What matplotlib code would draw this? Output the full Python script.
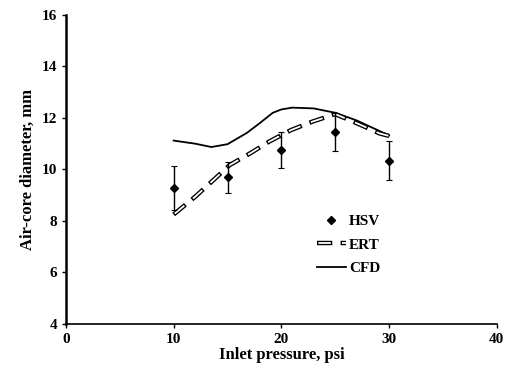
import matplotlib.pyplot as plt
from matplotlib.lines import Line2D

# Data
hsv_x = [10, 15, 20, 25, 30]
hsv_y = [9.28, 9.7, 10.76, 11.46, 10.34]
hsv_err = [0.85, 0.6, 0.7, 0.75, 0.75]

ert_x = [10, 12, 13.7, 15.2, 17.2, 18.9, 20.9, 22.9, 25, 27.3, 29.1, 30]
ert_y = [8.25, 8.94, 9.59, 10.17, 10.65, 11.09, 11.53, 11.86, 12.15, 11.74, 11.4, 11.3]

cfd_x = [10, 12, 13.5, 15, 16.8, 18, 19.2, 20, 21, 23, 25, 27, 30]
cfd_y = [11.12, 11.0, 10.87, 10.98, 11.42, 11.8, 12.2, 12.33, 12.4, 12.37, 12.2, 11.9, 11.32]

plt.rcParams["font.family"] = "Liberation Serif"
plt.rcParams["font.weight"] = "bold"
plt.rcParams["lines.scale_dashes"] = False

fig = plt.figure(figsize=(5.07, 3.74), dpi=100)
ax = fig.add_axes([0.130, 0.134, 0.850, 0.826])

# CFD solid line
cfd_line, = ax.plot(cfd_x, cfd_y, color="black", linewidth=1.3)

# ERT hollow dashes: thick black dash with white inside
ert_outer, = ax.plot(ert_x, ert_y, color="black", linewidth=3.2,
                     linestyle=(0, (11, 6)), dash_capstyle="butt")
ert_inner, = ax.plot(ert_x, ert_y, color="white", linewidth=1.3,
                     linestyle=(16, (9, 8)), dash_capstyle="butt")

# HSV points with error bars
ax.errorbar(hsv_x, hsv_y, yerr=hsv_err, fmt="D", color="black",
            markersize=4.5, elinewidth=1, capsize=2, capthick=0.8)

ax.set_xlim(0, 40)
ax.set_ylim(4, 16)
ax.set_xticks([0, 10, 20, 30, 40])
ax.set_yticks([4, 6, 8, 10, 12, 14, 16])
ax.tick_params(axis="both", labelsize=11, length=3, width=1)
ax.set_xlabel("Inlet pressure, psi", fontsize=12, fontweight="bold", labelpad=1)
ax.set_ylabel("Air-core diameter, mm", fontsize=12, fontweight="bold", labelpad=4)

ax.spines["top"].set_visible(False)
ax.spines["right"].set_visible(False)
ax.spines["left"].set_linewidth(1.8)
ax.spines["bottom"].set_linewidth(1.2)

hsv_handle = Line2D([], [], marker="D", color="black", linestyle="none", markersize=4.5)
ax.legend([hsv_handle, (ert_outer, ert_inner), cfd_line], ["HSV", "ERT", "CFD"],
          loc="center left", bbox_to_anchor=(0.55, 0.256), frameon=False,
          fontsize=11, handlelength=1.9, handletextpad=0.2, labelspacing=0.65)

fig.savefig("out.png", dpi=100)
